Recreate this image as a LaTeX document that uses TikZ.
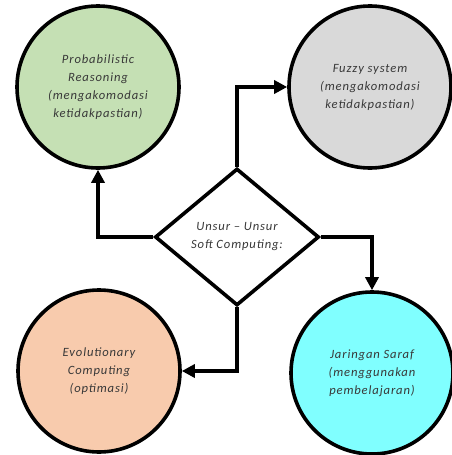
\documentclass[tikz,border=0pt]{standalone}
\usepackage{fontspec}
\setmainfont{Carlito}
\newfontfamily\labelfont[LetterSpace=7]{Carlito}
\usetikzlibrary{arrows.meta,shapes.geometric}
\definecolor{cgreen}{RGB}{197,224,180}
\definecolor{cgray}{RGB}{217,217,217}
\definecolor{corange}{RGB}{248,203,173}
\definecolor{ccyan}{RGB}{128,255,255}
\begin{document}
\begin{tikzpicture}[x=1pt,y=-1pt,
  labeltext/.style={align=center,font=\labelfont\fontsize{12.6}{18}\selectfont\itshape,text=black!78},
  unsur/.style={circle,draw=black,line width=3.6pt,minimum size=162pt,inner sep=0pt,labeltext},
  pusat/.style={diamond,draw=black,line width=3.6pt,minimum width=164pt,minimum height=137pt,
    inner sep=0pt,labeltext,fill=white},
  panah/.style={draw=black,line width=3.6pt,-{Triangle[length=13pt,width=13pt]}}]
\useasboundingbox (0,0) rectangle (451,455);
\node[unsur,fill=cgreen] (prob) at (98,87) {Probabilistic\\Reasoning\\(mengakomodasi\\ketidakpastian)};
\node[unsur,fill=cgray] (fuzzy) at (370,87) {Fuzzy system\\(mengakomodasi\\ketidakpastian)};
\node[unsur,fill=corange] (evo) at (99,371) {Evolutionary\\Computing\\(optimasi)};
\node[unsur,fill=ccyan] (jst) at (372,373) {Jaringan Saraf\\(menggunakan\\pembelajaran)};
\node[pusat] (sc) at (237,237) {Unsur – Unsur\\Soft Computing:};
\draw[panah] (sc.north) |- (fuzzy.west);
\draw[panah] (sc.west) -| (prob.south);
\draw[panah] (sc.east) -| (jst.north);
\draw[panah] (sc.south) |- (evo.east);
\end{tikzpicture}
\end{document}
